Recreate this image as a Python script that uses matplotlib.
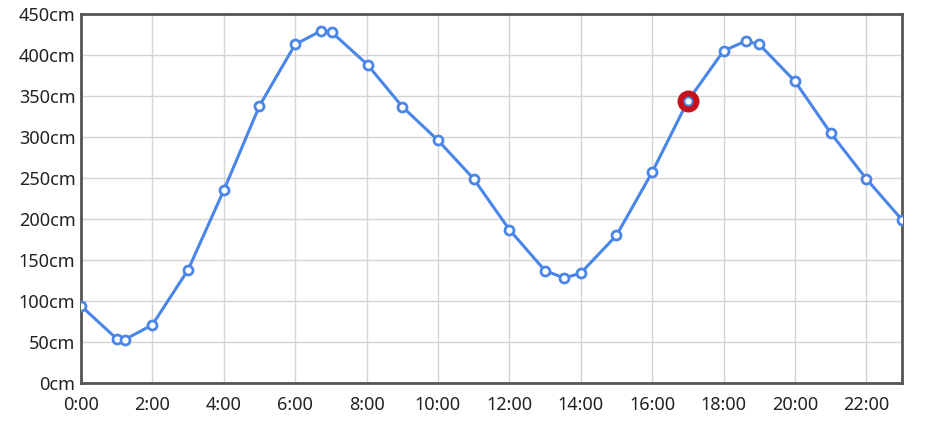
import matplotlib.pyplot as plt
import numpy as np

plt.rcParams['font.family'] = ['Noto Sans', 'DejaVu Sans']

# tide heights over one day (hours, cm)
hours = [0, 1.0, 1.23, 2, 3, 4, 5, 6, 6.71, 7.02, 8.03, 9, 10, 11, 12, 13,
         13.54, 14, 15, 16, 17, 18, 18.62, 19.0, 20, 21, 22, 23]
heights = [94, 54, 53, 71, 138, 235, 338, 413, 429, 428, 388, 337, 296, 249,
           187, 137, 128, 134, 180, 257, 344, 405, 417, 413, 368, 305, 249, 199]
current_hour = 17
current_height = 344

xticks = list(range(0, 23, 2))
xlabels = ['%d:00' % h for h in xticks]
yticks = list(range(0, 451, 50))
ylabels = ['%dcm' % v for v in yticks]

fig = plt.figure(figsize=(9.41, 4.38), dpi=100)
ax = fig.add_axes([81/941, 1 - 383/438, (902-81)/941, (383-14)/438])

ax.plot(hours, heights, color='#4a86e8', lw=2.2, zorder=3,
        marker='o', ms=6.5, mfc='white', mec='#4a86e8', mew=2)
ax.plot([current_hour], [current_height], 'o', ms=11.5, mfc='none',
        mec='#c4121f', mew=4.3, zorder=4)

ax.set_xlim(0, 23)
ax.set_ylim(0, 450)
ax.set_xticks(xticks)
ax.set_xticklabels(xlabels)
ax.set_yticks(yticks)
ax.set_yticklabels(ylabels)
ax.grid(True, color='#d4d4d4', lw=1)
ax.set_axisbelow(True)
for s in ax.spines.values():
    s.set_color('#555555')
    s.set_linewidth(2)
ax.tick_params(labelsize=13, colors='#222222', length=0)
ax.tick_params(axis='x', pad=9)
ax.tick_params(axis='y', pad=4)

fig.savefig('out.png', dpi=100)
